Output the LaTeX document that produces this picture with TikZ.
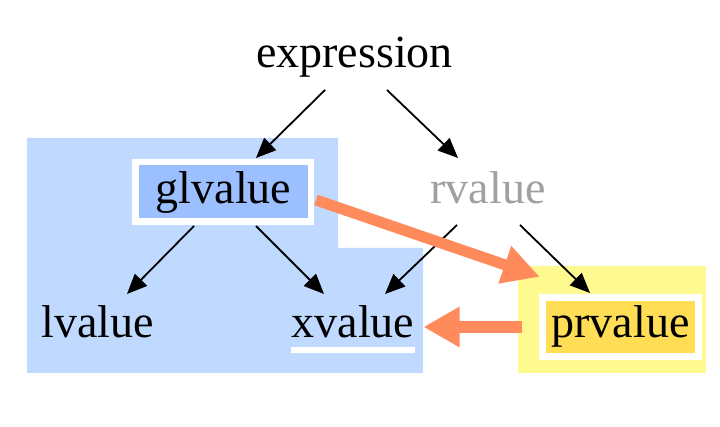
\documentclass[tikz,border=0pt]{standalone}
\usepackage{fontspec}
\setmainfont{Liberation Serif}
\usetikzlibrary{arrows.meta,calc}
\definecolor{lightblue}{RGB}{192,218,255}
\definecolor{glvfill}{RGB}{155,191,255}
\definecolor{lightyellow}{RGB}{255,250,143}
\definecolor{prvfill}{RGB}{255,221,85}
\definecolor{hlorange}{RGB}{255,138,92}
\definecolor{rvgray}{RGB}{160,160,160}
\begin{document}
\begin{tikzpicture}[x=1pt,y=-1pt,
  lbl/.style={anchor=base,inner sep=0pt,font=\fontsize{46}{54}\selectfont,text=black},
  tree/.style={draw=black,line width=1.8pt,-{Triangle[length=20pt,width=17pt]}},
  hl/.style={draw=hlorange,line width=11pt,-{Triangle[length=37pt,width=37pt]}},
  box/.style={draw=white,inner sep=0pt}]
\useasboundingbox (0,0) rectangle (720,427);
% regions
\fill[lightblue] (27,138) -- (338,138) -- (338,248) -- (423,248) -- (423,373) -- (27,373) -- cycle;
\node[fill=lightyellow,inner sep=0pt,minimum width=188pt,minimum height=107pt] (yel) at (612,319.5) {};
% boxes
\node[box,fill=glvfill,line width=6.5pt,minimum width=175.5pt,minimum height=59.5pt] (glvb) at (223,192) {};
\node[box,fill=prvfill,line width=7pt,minimum width=156pt,minimum height=59.5pt] (prvb) at (620.5,327) {};
% labels
\node[lbl] (expr) at (354.5,68) {expression};
\node[lbl] (glv) at (223.5,204) {glvalue};
\node[lbl,text=rvgray] (rv) at (488,204) {rvalue};
\node[lbl] (lv) at (97.5,338) {lvalue};
\node[lbl] (xv) at (353,338) {xvalue};
\node[lbl] (prv) at (620.5,338) {prvalue};
% underline
\fill[white] ($(xv.base west)+(0,9)$) rectangle ($(xv.base east)+(0,15)$);
% tree arrows
\draw[tree] ($(expr.base)+(-29.5,22)$) -- ($(glv.base)+(32.5,-46)$);
\draw[tree] ($(expr.base)+(32.5,22)$) -- ($(rv.base)+(-30,-46)$);
\draw[tree] ($(glv.base)+(-29.5,22)$) -- ($(lv.base)+(29.5,-44)$);
\draw[tree] ($(glv.base)+(32.5,22)$) -- ($(xv.base)+(-29,-44)$);
\draw[tree] ($(rv.base)+(-31,21)$) -- ($(xv.base)+(32,-44)$);
\draw[tree] ($(rv.base)+(32,21)$) -- ($(prv.base)+(-30.5,-45)$);
% highlight arrows
\draw[hl] ($(glvb.east)+(2,8)$) -- ($(yel.north west)+(22,11)$);
\draw[hl,line width=12pt,-{Triangle[length=36pt,width=38pt]}] ($(yel.west)+(4,7.5)$) -- ($(xv.base east)+(9,-11)$);
\end{tikzpicture}
\end{document}
